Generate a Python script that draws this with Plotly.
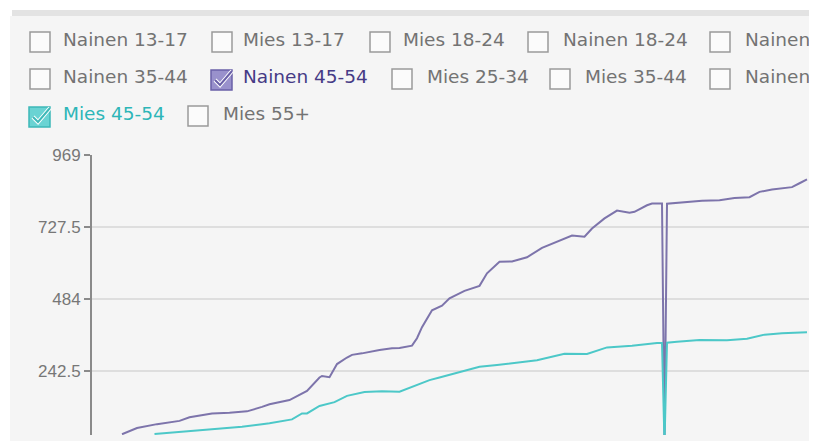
import plotly.graph_objects as go

# ---------------- data ----------------
purple_name = "Nainen 45-54"
purple_days = [0, 6, 14, 23, 27, 36, 43, 50, 56, 59, 67, 72, 74, 79, 80, 83, 86, 90, 92, 96,
               99, 103, 108, 111, 116, 118, 120, 124, 128, 131, 137, 143, 146, 151, 156, 162, 168, 175, 180, 185,
               188, 193, 198, 203, 205, 210, 212, 216, 217, 218, 225, 232, 239, 245, 251, 255, 260, 268, 271, 274]
purple_vals = [30, 51, 64, 75, 87, 100, 102, 107, 122, 131, 145, 168, 176, 221, 226, 222, 266, 288, 297, 302,
               307, 313, 319, 320, 328, 353, 390, 447, 462, 487, 512, 529, 571, 610, 611, 625, 657, 682, 698, 694,
               722, 756, 782, 775, 778, 800, 806, 806, 0, 805, 810, 815, 817, 824, 827, 845, 853, 861, 874, 887]

teal_name = "Mies 45-54"
teal_days = [13, 27, 40, 48, 56, 59, 68, 72, 74, 79, 85, 90, 97, 104, 111, 116, 123, 127, 135, 139,
             143, 150, 155, 166, 177, 186, 194, 204, 214, 216, 217, 218, 222, 231, 242, 250, 257, 264, 274]
teal_vals = [31, 40, 50, 55, 64, 67, 80, 100, 100, 125, 138, 159, 172, 175, 173, 189, 212, 221, 240, 248,
             257, 263, 268, 279, 301, 300, 322, 328, 337, 337, 0, 338, 341, 347, 346, 351, 365, 370, 373]

tick_vals = [242.5, 484, 727.5, 969]
tick_text = ["242.5", "484", "727.5", "969"]

legend_labels = ["Nainen 13-17", "Mies 13-17", "Mies 18-24", "Nainen 18-24", "Nainen",
                 "Nainen 35-44", "Nainen 45-54", "Mies 25-34", "Mies 35-44", "Nainen",
                 "Mies 45-54", "Mies 55+"]
legend_checked = [False, False, False, False, False,
                  False, True, False, False, False,
                  True, False]

# ---------------- style / layout ----------------
OFF = 8                      # page body margin
W, H = 817 - OFF, 441 - OFF
PLOT_L, PLOT_R, PLOT_T, PLOT_B = 92, 810, 155, 435   # window pixel coords
ML = PLOT_L - OFF
MT = PLOT_T - OFF
MR = (W + OFF) - PLOT_R
MB = (H + OFF) - PLOT_B
PW, PH = PLOT_R - PLOT_L, PLOT_B - PLOT_T

PURPLE = "#7d74ab"
PURPLE_TXT = "#463b86"
PURPLE_FILL = "#9991cc"
TEAL = "#4cc8c8"
TEAL_TXT = "#2db6b8"
TEAL_FILL = "#6ad3d3"
GRAY_TXT = "#737373"

# legend item geometry in window pixels: (box_x, text_x, row)
legend_pos = [(30, 63, 0), (212, 243, 0), (370, 403, 0), (528, 563, 0), (710, 745, 0),
              (30, 63, 1), (211, 243, 1), (392, 427, 1), (550, 585, 1), (710, 745, 1),
              (29, 63, 2), (188, 223, 2)]
row_box_top = [32, 69, 106]
row_text_mid = [39.5, 76.5, 113.5]


def px(x):
    return (x - PLOT_L) / PW


def py(y):
    return (PLOT_B - y) / PH


fig = go.Figure()
fig.add_trace(go.Scatter(x=purple_days, y=purple_vals, mode="lines", name=purple_name,
                         line=dict(color=PURPLE, width=2), hoverinfo="skip"))
fig.add_trace(go.Scatter(x=teal_days, y=teal_vals, mode="lines", name=teal_name,
                         line=dict(color=TEAL, width=2), hoverinfo="skip"))

shapes = []
annotations = []
# panel background
shapes.append(dict(type="rect", xref="paper", yref="paper", x0=px(10), x1=px(810), y0=py(441), y1=py(16),
                   fillcolor="#f5f5f5", line=dict(width=0), layer="below"))
shapes.append(dict(type="rect", xref="paper", yref="paper", x0=px(12), x1=px(810), y0=py(16), y1=py(10),
                   fillcolor="#e3e3e3", line=dict(width=0), layer="below"))

for lab, chk, (bx, tx, r) in zip(legend_labels, legend_checked, legend_pos):
    top = row_box_top[r]
    size = 20
    if chk:
        is_purple = lab == purple_name
        fill = PURPLE_FILL if is_purple else TEAL_FILL
        edge = "#6a60a8" if is_purple else "#3db8b8"
        tcol = PURPLE_TXT if is_purple else TEAL_TXT
        shapes.append(dict(type="rect", xref="paper", yref="paper",
                           x0=px(bx), x1=px(bx + size + 1), y0=py(top + size + 1), y1=py(top + 1),
                           fillcolor=fill, line=dict(color=edge, width=1.5)))
        path = "M {},{} L {},{} L {},{}".format(px(bx + 4), py(top + 11), px(bx + 9), py(top + 16),
                                                px(bx + 21), py(top + 2))
        shapes.append(dict(type="path", xref="paper", yref="paper", path=path,
                           line=dict(color="white", width=4)))
        shapes.append(dict(type="path", xref="paper", yref="paper", path=path,
                           line=dict(color=edge, width=2)))
    else:
        tcol = GRAY_TXT
        shapes.append(dict(type="rect", xref="paper", yref="paper",
                           x0=px(bx), x1=px(bx + size), y0=py(top + size), y1=py(top),
                           fillcolor="#fbfbfb", line=dict(color="#9a9a9a", width=1.5)))
    annotations.append(dict(xref="paper", yref="paper", x=px(tx - 2), y=py(row_text_mid[r]),
                            xanchor="left", yanchor="middle", showarrow=False, text=lab,
                            font=dict(family="DejaVu Sans", size=18.5, color=tcol)))

fig.update_layout(
    width=W, height=H,
    margin=dict(l=ML, r=MR, t=MT, b=MB, pad=0),
    paper_bgcolor="white",
    plot_bgcolor="rgba(0,0,0,0)",
    showlegend=False,
    shapes=shapes,
    annotations=annotations,
    xaxis=dict(range=[-12, 275.2], visible=False, fixedrange=True),
    yaxis=dict(range=[27.5, 969], tickvals=tick_vals, ticktext=tick_text,
               showgrid=True, gridcolor="#dedede", gridwidth=2,
               showline=True, linecolor="#8a8a8a", linewidth=2,
               ticks="outside", ticklen=6, tickcolor="#8a8a8a", tickwidth=1.5,
               tickfont=dict(family="Liberation Sans", size=17, color="#777777"),
               zeroline=False, fixedrange=True),
)

fig.write_html("out.html")
